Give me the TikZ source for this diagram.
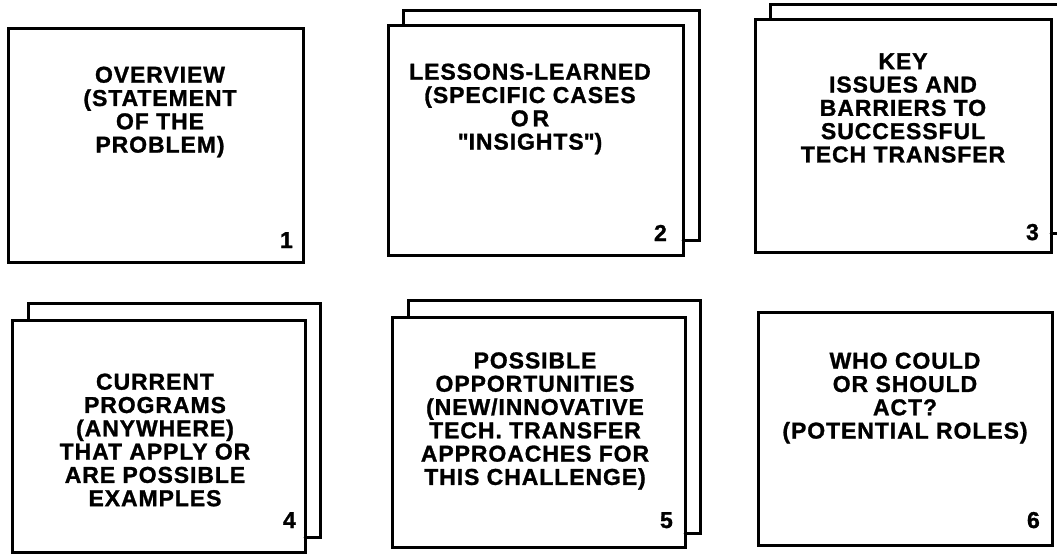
\documentclass[tikz,border=0pt]{standalone}
\usepackage{fontspec}
\setmainfont{Liberation Sans}
\newfontfamily\heavyfont[LetterSpace=4, BoldFeatures={FakeBold=1.2, LetterSpace=4}]{Liberation Sans}
\usepackage{tikz}
\usetikzlibrary{calc,positioning}

\begin{document}
\begin{tikzpicture}[x=1pt, y=-1pt, line cap=round, line join=miter,
    sheet/.style={draw, line width=3pt, inner sep=0pt, outer sep=0pt, fill=white},
    backsheet/.style={draw, line width=3pt},
    caption/.style={align=center, font=\fontsize{23}{23.3}\selectfont\heavyfont\bfseries},
    num/.style={anchor=base east, inner sep=0pt, font=\fontsize{23}{23}\selectfont\heavyfont\bfseries}]
  \useasboundingbox (0,0) rectangle (1057,554); % page = reference size in px

  % top row
  \node[sheet, minimum width=295, minimum height=234] (b1) at (155.5,145) {};
  \node[sheet, minimum width=295, minimum height=230] (b2) at (535.5,140) {};
  \node[sheet, minimum width=296, minimum height=233] (b3) at (903,135.5) {};

  % bottom row
  \node[sheet, minimum width=293, minimum height=232] (b4) at (158.5,436) {};
  \node[sheet, minimum width=293, minimum height=230] (b5) at (538.5,432) {};
  \node[sheet, minimum width=294, minimum height=233] (b6) at (905,428.5) {};

  % second sheet peeking out behind
  \draw[backsheet] ([shift={(15,0)}]b2.north west) -- ++(0,-15)
    -| ([shift={(16,-15)}]b2.south east) -- ([shift={(0,-15)}]b2.south east);
  \draw[backsheet] ([shift={(15,0)}]b3.north west) -- ++(0,-15)
    -| ([shift={(12,-19)}]b3.south east) -- ([shift={(0,-19)}]b3.south east);
  \draw[backsheet] ([shift={(16,0)}]b4.north west) -- ++(0,-17)
    -| ([shift={(15,-15)}]b4.south east) -- ([shift={(0,-15)}]b4.south east);
  \draw[backsheet] ([shift={(16,0)}]b5.north west) -- ++(0,-17)
    -| ([shift={(15,-14)}]b5.south east) -- ([shift={(0,-14)}]b5.south east);

  \node[caption] (t1) at (160,112) {OVERVIEW\\(STATEMENT\\OF THE\\PROBLEM)};
  \node[caption] (t2) at (530,109) {LESSONS-LEARNED\\(SPECIFIC CASES\\O\,R\\\textquotedbl INSIGHTS\textquotedbl)};
  \node[caption] (t3) at (903,108) {KEY\\ISSUES AND\\BARRIERS TO\\SUCCESSFUL\\TECH TRANSFER};
  \node[caption] (t4) at (155,440) {CURRENT\\PROGRAMS\\(ANYWHERE)\\THAT APPLY OR\\ARE POSSIBLE\\EXAMPLES};
  \node[caption] (t5) at (535,421) {POSSIBLE\\OPPORTUNITIES\\(NEW/INNOVATIVE\\TECH. TRANSFER\\APPROACHES FOR\\THIS CHALLENGE)};
  \node[caption] (t6) at (905,398) {WHO COULD\\OR SHOULD\\ACT?\\(POTENTIAL ROLES)};

  \node[num] (n1) at ([shift={(-10,-14)}]b1.south east) {1};
  \node[num] (n2) at ([shift={(-16,-14)}]b2.south east) {2};
  \node[num] (n3) at ([shift={(-12,-12)}]b3.south east) {3};
  \node[num] (n4) at ([shift={(-9,-24)}]b4.south east) {4};
  \node[num] (n5) at ([shift={(-12,-19)}]b5.south east) {5};
  \node[num] (n6) at ([shift={(-12,-17)}]b6.south east) {6};
\end{tikzpicture}
\end{document}
